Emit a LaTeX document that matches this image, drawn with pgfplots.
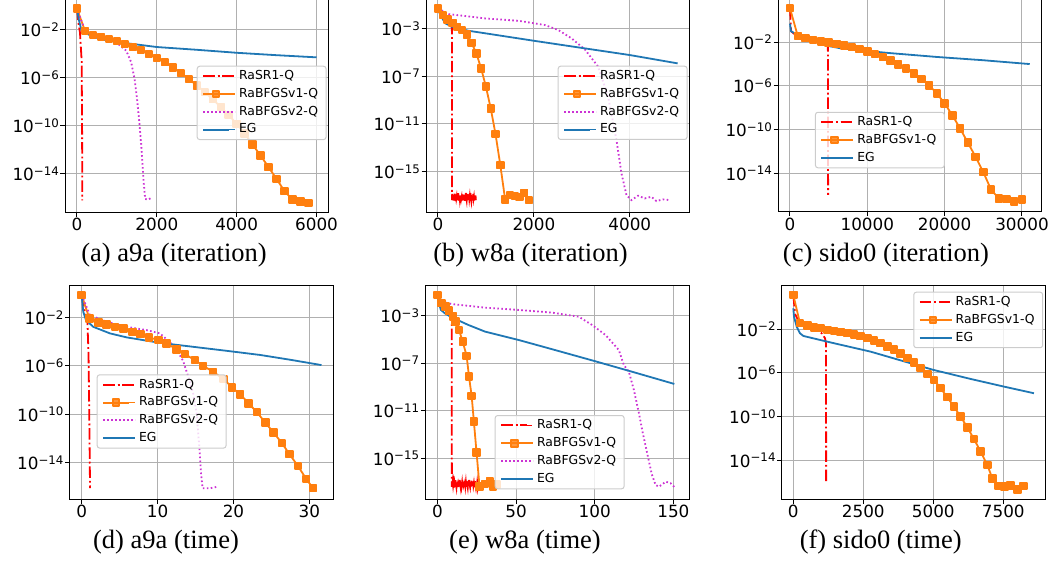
\documentclass[border=0pt]{standalone}
\usepackage{fontspec}
\setmainfont{DejaVu Sans}
\newfontfamily\capfont{Liberation Serif}
\usepackage{pgfplots}
\pgfplotsset{compat=1.18}

\definecolor{tabblue}{HTML}{1F77B4}
\definecolor{taborange}{HTML}{FF7F0E}
\definecolor{mplred}{rgb}{1,0,0}
\definecolor{mplmag}{HTML}{CC33D4}
\definecolor{gridgray}{HTML}{B0B0B0}
\definecolor{leggray}{HTML}{CCCCCC}

% 10^k tick label, set like matplotlib mathtext
\newcommand{\ee}[1]{10\raisebox{5.3pt}{\fontsize{11.8}{12}\selectfont #1}}

\pgfplotsset{
  panel/.style={
    scale only axis,
    axis line style={line width=1pt, black},
    xtick pos=bottom, ytick pos=left,
    tick align=outside, major tick length=4.5pt,
    tick style={black, line width=1pt},
    xminorticks=false, yminorticks=false,
    grid=major, major grid style={gridgray, line width=1pt},
    tick label style={font=\fontsize{16.8}{19}\selectfont},
    yticklabel style={inner xsep=1.5pt},
    xticklabel style={inner ysep=1.5pt},
    scaled ticks=false,
    legend cell align=left,
    legend image code/.code={\path (0pt,0pt) -- (32pt,0pt);
      \draw[mark repeat=2,mark phase=2,##1,line width=2pt]
      plot coordinates {(0pt,0pt)(13pt,0pt)(26pt,0pt)};},
    legend style={anchor=north west, font=\fontsize{12.4}{14}\selectfont,
      draw=leggray, line width=1pt, rounded corners=2.5pt,
      fill=white, fill opacity=0.8, text opacity=1, draw opacity=1,
      inner xsep=5pt, inner ysep=2.5pt, row sep=2.9pt,
      nodes={inner xsep=3pt, inner ysep=1.5pt, text height=9.3pt, text depth=2.6pt}},
  },
  ytA/.style={ytick={1e-2,1e-6,1e-10,1e-14},
    yticklabels={\ee{−2},\ee{−6},\ee{−10},\ee{−14}}},
  ytB/.style={ytick={1e-3,1e-7,1e-11,1e-15},
    yticklabels={\ee{−3},\ee{−7},\ee{−11},\ee{−15}}},
  sr1/.style={color=mplred, line width=1.8pt, no markers,
    dash pattern=on 11.5pt off 2.9pt on 1.8pt off 2.9pt},
  bv1/.style={color=taborange, line width=1.8pt, solid, line join=round,
    mark=square*, mark size=3.3pt, mark options={solid}},
  bv2/.style={color=mplmag, line width=1.8pt, no markers,
    dash pattern=on 1.6pt off 2.4pt},
  eg/.style={color=tabblue, line width=1.8pt, solid, no markers, line join=round},
}

\begin{document}
\begin{tikzpicture}[x=1pt,y=1pt]
\path[use as bounding box] (0,0) rectangle (1056,560);

% ---------------- (a) a9a (iteration)
\begin{axis}[ymode=log, panel, ytA, at={(65pt,348pt)}, anchor=south west,
  width=263.5pt, height=213.2pt,
  xmin=-300, xmax=6300, ymin=6.76e-18, ymax=3.98,
  xtick={0,2000,4000,6000}, xticklabels={0,2000,4000,6000},
  legend style={at={(0.4998,0.686)}}]
\addplot[sr1] coordinates {(0,6e-1)(40,3.2e-2)(75,6.3e-3)(117,2.75e-5)(128,1e-10)(133,6.3e-17)};
\addplot[bv1] coordinates {(0,6e-1)(200,8.7e-3)(400,3.8e-3)(600,2.75e-3)(800,1.78e-3)(1000,1.15e-3)
  (1200,6.76e-4)(1400,3.63e-4)(1600,2.14e-4)(1800,1e-4)(2000,4.68e-5)(2200,2.04e-5)(2400,7.76e-6)
  (2600,2.63e-6)(2800,8.32e-7)(3000,2.45e-7)(3200,6.76e-8)(3400,1.70e-8)(3600,3.89e-9)(3800,8.13e-10)
  (4000,1.51e-10)(4200,2.40e-11)(4400,2.75e-12)(4600,3.39e-13)(4800,3.63e-14)(5000,3.80e-15)
  (5200,3.63e-16)(5400,7.24e-17)(5600,4.90e-17)(5800,3.80e-17)};
\addplot[bv2] coordinates {(0,6e-1)(200,9e-3)(500,3.3e-3)(800,1.8e-3)(983,9.3e-4)(1233,1.9e-4)
  (1358,2.04e-5)(1442,8.32e-7)(1500,2.45e-8)(1550,5.25e-10)(1608,3.16e-12)(1667,2.75e-15)
  (1708,8.3e-17)(1775,7.24e-17)(1858,1e-16)};
\addplot[eg] coordinates {(0,6e-1)(50,6.3e-2)(117,8.7e-3)(300,4.0e-3)(575,1.78e-3)(1000,1.0e-3)
  (1408,6.76e-4)(2000,3.8e-4)(3000,2.24e-4)(4000,1.26e-4)(5000,7.94e-5)(6000,5.25e-5)};
\legend{RaSR1-Q,RaBFGSv1-Q,RaBFGSv2-Q,EG}
\end{axis}

% ---------------- (b) w8a (iteration)
\begin{axis}[ymode=log, panel, ytB, at={(426pt,348pt)}, anchor=south west,
  width=263.7pt, height=213.6pt,
  xmin=-250, xmax=5250, ymin=3.98e-19, ymax=0.355,
  xtick={0,2000,4000}, xticklabels={0,2000,4000},
  legend style={at={(0.4994,0.685)}}]
\addplot[sr1] coordinates {(0,5.1e-2)(100,1.41e-2)(200,6e-3)(290,1.26e-3)(293,4.0e-18)
  (300,1.3e-17)(310,5.0e-18)(318,1.1e-17)(326,3.6e-18)(335,9.0e-18)(343,4.5e-18)(350,1.4e-17)
  (358,6.0e-18)(366,3.4e-18)(375,1.2e-17)(383,5.5e-18)(390,8.0e-18)(398,3.8e-18)(406,1.0e-17)
  (414,4.2e-18)(422,1.5e-17)(430,6.5e-18)(438,3.5e-18)(446,1.1e-17)(455,4.8e-18)(463,9.5e-18)
  (470,3.7e-18)(478,1.3e-17)(486,5.2e-18)(494,7.5e-18)(502,3.6e-18)(510,1.2e-17)(518,4.4e-18)
  (526,1.0e-17)(534,3.9e-18)(542,1.4e-17)(550,6.2e-18)(558,3.5e-18)(566,1.1e-17)(574,4.6e-18)
  (582,1.6e-17)(590,5.8e-18)(598,3.7e-18)(606,9.8e-18)(614,4.1e-18)(622,1.3e-17)(630,5.4e-18)
  (638,3.6e-18)(646,1.2e-17)(654,4.9e-18)(662,8.5e-18)(670,3.8e-18)(678,1.5e-17)(686,5.6e-18)
  (694,3.5e-18)(702,1.1e-17)(710,4.3e-18)(718,9.2e-18)(726,3.7e-18)(734,1.3e-17)(742,5.1e-18)
  (750,7.8e-18)(758,3.6e-18)(766,1.2e-17)(774,4.7e-18)(782,1.0e-17)(790,4.0e-18)};
\addplot[bv1] coordinates {(0,5.1e-2)(100,1.41e-2)(200,6.0e-3)(300,3.16e-3)(400,1.48e-3)(500,7.76e-4)
  (600,3.31e-4)(700,6.6e-5)(800,8.5e-6)(900,4.68e-7)(1000,1.35e-8)(1100,2.04e-10)(1200,1.41e-12)
  (1300,3.47e-15)(1400,4.57e-18)(1500,1.05e-17)(1600,8.7e-18)(1700,7.6e-18)(1800,1.66e-17)(1900,3.98e-18)};
\addplot[bv2] coordinates {(0,5.1e-2)(222,1.70e-2)(984,7.4e-3)(1678,4.68e-3)(2232,2.04e-3)(2510,7.76e-4)
  (2787,1.55e-4)(3064,1.82e-5)(3341,6.46e-7)(3549,1.95e-9)(3723,4.37e-13)(3827,6.9e-16)(3931,1.05e-17)
  (4035,3.98e-18)(4173,9.3e-18)(4312,5.5e-18)(4451,7.6e-18)(4555,3.3e-18)(4693,4.57e-18)(4832,3.98e-18)};
\addplot[eg] coordinates {(0,5.1e-2)(49,1.41e-2)(153,2.82e-3)(291,1.48e-3)(638,6.76e-4)(998,4.07e-4)
  (1997,9.8e-5)(3064,2.24e-5)(4000,6.17e-6)(4998,1.23e-6)};
\legend{RaSR1-Q,RaBFGSv1-Q,RaBFGSv2-Q,EG}
\end{axis}

% ---------------- (c) sido0 (iteration)
\begin{axis}[ymode=log, panel, ytA, at={(778pt,348.3pt)}, anchor=south west,
  width=263.7pt, height=212.6pt,
  xmin=-1550, xmax=32550, ymin=3.02e-18, ymax=89.1,
  xtick={0,10000,20000,30000}, xticklabels={0,10000,20000,30000},
  legend style={at={(0.140,0.470)}}]
\addplot[sr1] coordinates {(0,12.9)(150,1e-1)(1000,3.16e-2)(2500,1.58e-2)(4000,7.94e-3)(4900,4.47e-3)(4930,1.05e-16)};
\addplot[bv1] coordinates {(0,12.9)(1000,3.8e-2)(2000,2.34e-2)(3000,1.62e-2)(4000,1.15e-2)(5000,9.3e-3)
  (6000,7.08e-3)(7000,4.9e-3)(8000,3.47e-3)(9000,2.29e-3)(10000,1.41e-3)(11000,7.94e-4)(12000,4.27e-4)
  (13000,2.09e-4)(14000,8.9e-5)(15000,3.8e-5)(16000,1.41e-5)(17000,4.37e-6)(18000,1.12e-6)(19000,2.0e-7)
  (20000,2.51e-8)(21000,2.0e-9)(22000,1.26e-10)(23000,6.3e-12)(24000,3.16e-13)(25000,1.26e-14)
  (26000,3.16e-16)(27000,5.0e-17)(28000,4.47e-17)(29000,2.51e-17)(30000,3.98e-17)};
\addplot[eg] coordinates {(0,5.0e-1)(130,1e-1)(1000,5.0e-2)(2200,2.51e-2)(3500,1.12e-2)(5000,4.47e-3)
  (6500,2.82e-3)(8700,1.91e-3)(13000,1e-3)(19000,4.47e-4)(25000,2.24e-4)(31000,1e-4)};
\legend{RaSR1-Q,RaBFGSv1-Q,EG}
\end{axis}

% ---------------- (d) a9a (time)
\begin{axis}[ymode=log, panel, ytA, at={(69.7pt,60.7pt)}, anchor=south west,
  width=263.6pt, height=214.2pt,
  xmin=-1.58, xmax=33.16, ymin=9.33e-18, ymax=4.68,
  xtick={0,10,20,30}, xticklabels={0,10,20,30},
  legend style={at={(0.1024,0.5836)}}]
\addplot[sr1] coordinates {(0,6.9e-1)(0.4,3.16e-2)(0.75,5.0e-3)(0.9,1e-5)(1.0,1e-10)(1.1,7.94e-17)};
\addplot[bv1] coordinates {(0,6.9e-1)(1.01,8.3e-3)(2.2,3.89e-3)(3.29,2.63e-3)(4.39,1.70e-3)(5.49,1.23e-3)
  (6.68,6.6e-4)(7.77,4.17e-4)(8.87,2.24e-4)(10.1,1.35e-4)(11.2,7.08e-5)(12.5,2.29e-5)(13.6,9.3e-6)
  (14.9,3.02e-6)(16.0,1.02e-6)(17.3,3.24e-7)(18.7,8.1e-8)(19.8,1.66e-8)(20.9,4.37e-9)(22.0,7.94e-10)
  (23.1,1.45e-10)(24.2,2.0e-11)(25.3,3.02e-12)(26.4,3.98e-13)(27.4,4.9e-14)(28.5,5.25e-15)
  (29.6,4.47e-16)(30.5,7.6e-17)};
\addplot[bv2] coordinates {(0,6.9e-1)(1.09,1.55e-2)(3.29,4.37e-3)(5.93,1.66e-3)(8.56,8.9e-4)(10.3,4.79e-4)
  (11.6,9.5e-5)(12.5,2.0e-5)(13.2,4.07e-6)(13.4,2.19e-6)(14.05,1.26e-7)(14.7,5.25e-9)(15.15,1.17e-10)
  (15.5,2.09e-13)(15.72,1.32e-15)(15.94,7.6e-17)(16.9,7.6e-17)(18.0,1.05e-16)};
\addplot[eg] coordinates {(0,6.9e-1)(0.21,2.88e-2)(0.57,6.0e-3)(1.53,1.66e-3)(3.73,4.79e-4)(5.93,2.24e-4)
  (10.3,7.94e-5)(14.7,3.72e-5)(19.1,1.74e-5)(23.5,7.94e-6)(27.5,3.16e-6)(31.6,1.15e-6)};
\legend{RaSR1-Q,RaBFGSv1-Q,RaBFGSv2-Q,EG}
\end{axis}

% ---------------- (e) w8a (time)
\begin{axis}[ymode=log, panel, ytB, at={(425.3pt,61pt)}, anchor=south west,
  width=264.4pt, height=214.0pt,
  xmin=-7.8, xmax=160.4, ymin=3.72e-19, ymax=0.407,
  xtick={0,50,100,150}, xticklabels={0,50,100,150},
  legend style={at={(0.2625,0.3925)}}]
\addplot[sr1] coordinates {(0,5.9e-2)(2.5,1.2e-2)(5,6.3e-3)(9.0,8.7e-4)(9.1,4.0e-18)
  (9.6,1.2e-17)(9.9,5.0e-18)(10.2,1.0e-17)(10.5,3.5e-18)(10.8,8.5e-18)(11.1,4.5e-18)(11.4,1.4e-17)
  (11.7,6.0e-18)(12.0,3.4e-18)(12.3,1.1e-17)(12.6,5.5e-18)(12.9,8.0e-18)(13.2,3.8e-18)(13.5,1.3e-17)
  (13.8,4.2e-18)(14.1,1.5e-17)(14.4,6.5e-18)(14.7,3.5e-18)(15.0,1.1e-17)(15.3,4.8e-18)(15.6,9.5e-18)
  (15.9,3.7e-18)(16.2,1.3e-17)(16.5,5.2e-18)(16.8,7.5e-18)(17.1,3.6e-18)(17.4,1.2e-17)(17.7,4.4e-18)
  (18.0,1.0e-17)(18.3,3.9e-18)(18.6,1.4e-17)(18.9,6.2e-18)(19.2,3.5e-18)(19.5,1.1e-17)(19.8,4.6e-18)
  (20.1,1.5e-17)(20.4,5.8e-18)(20.7,3.7e-18)(21.0,9.8e-18)(21.3,4.1e-18)(21.6,1.3e-17)(21.9,5.4e-18)
  (22.2,3.6e-18)(22.5,1.2e-17)(22.8,4.9e-18)(23.1,8.5e-18)(23.4,3.8e-18)(23.7,1.4e-17)(24.0,5.6e-18)
  (24.3,3.5e-18)(24.6,1.1e-17)(24.9,4.3e-18)(25.2,9.2e-18)(25.5,3.7e-18)(25.7,6.0e-18)};
\addplot[bv1] coordinates {(0,5.9e-2)(2.55,1.17e-2)(5.1,6.17e-3)(7.2,2.82e-3)(10.0,8.7e-4)(11.5,3.31e-4)
  (13.6,6.6e-5)(16.0,6.9e-6)(18.5,4.27e-7)(20.0,7.6e-9)(21.7,1.78e-10)(23.1,1.26e-12)(24.8,3.16e-15)
  (26.7,4.07e-18)(30.0,6.76e-18)(33.2,1.07e-17)(35.3,4.07e-18)(37.6,6.3e-18)};
\addplot[bv2] coordinates {(0,5.9e-2)(2.55,1.62e-2)(8.9,1.02e-2)(30.2,5.0e-3)(51.5,3.24e-3)(72.8,1.91e-3)
  (89.8,8.7e-4)(98.3,1.74e-4)(106.8,2.51e-5)(115.3,1.35e-6)(118.5,7.4e-8)(121.7,2.0e-8)(124.9,5.75e-10)
  (128.1,6.3e-12)(130.6,1.26e-13)(133.4,2.51e-15)(136.2,5.0e-17)(138.7,5.6e-18)(140.9,4.07e-18)
  (145.1,1.07e-17)(148.3,7.94e-18)(151.5,2.95e-18)};
\addplot[eg] coordinates {(0,5.9e-2)(0.85,1.17e-2)(2.1,3.24e-3)(4.7,1.66e-3)(8.9,7.76e-4)(19.6,1.74e-4)
  (30.2,4.79e-5)(51.5,9.5e-6)(72.8,1.58e-6)(100.4,1.51e-7)(125,1.78e-8)(150.6,1.86e-9)};
\legend{RaSR1-Q,RaBFGSv1-Q,RaBFGSv2-Q,EG}
\end{axis}

% ---------------- (f) sido0 (time)
\begin{axis}[ymode=log, panel, ytA, at={(781.7pt,60.7pt)}, anchor=south west,
  width=263.3pt, height=213.4pt,
  xmin=-414, xmax=8989, ymin=2.69e-18, ymax=93.3,
  xtick={0,2500,5000,7500}, xticklabels={0,2500,5000,7500},
  legend style={at={(0.4998,0.9728)}}]
\addplot[sr1] coordinates {(0,14.1)(25,3.16)(60,2.51e-1)(200,5.0e-2)(360,2.51e-2)(589,1.74e-2)(836,8.7e-3)
  (1014,4.27e-3)(1132,1.51e-3)(1168,5.25e-4)(1170,1e-5)(1172,1e-16)};
\addplot[bv1] coordinates {(0,14.1)(238,3.55e-2)(500,2.19e-2)(738,1.51e-2)(976,1.23e-2)(1214,8.7e-3)
  (1452,7.08e-3)(1690,5.75e-3)(1929,4.27e-3)(2167,3.24e-3)(2405,2.29e-3)(2643,1.51e-3)(2881,9.1e-4)
  (3119,5.25e-4)(3357,2.75e-4)(3595,1.38e-4)(3833,5.9e-5)(4071,2.34e-5)(4310,8.9e-6)(4548,2.88e-6)
  (4786,8.1e-7)(5024,2.29e-7)(5262,3.98e-8)(5500,5.9e-9)(5738,8.3e-10)(5976,1e-10)(6214,1.05e-11)
  (6452,8.9e-13)(6690,6.3e-14)(6929,3.72e-15)(7107,2.24e-16)(7310,4.47e-17)(7548,3.89e-17)
  (7762,5.1e-17)(8000,2.19e-17)(8214,4.47e-17)};
\addplot[eg] coordinates {(0,8.3e-1)(25,1.41e-1)(121,1.74e-2)(239,4.27e-3)(357,2.45e-3)(954,1.05e-3)
  (1571,4.47e-4)(2762,8.9e-5)(3900,1.26e-5)(5000,1.91e-6)(6333,2.82e-7)(7524,5.6e-8)(8595,1.38e-8)};
\legend{RaSR1-Q,RaBFGSv1-Q,EG}
\end{axis}

% ---------------- sub-captions
\begin{scope}[every node/.style={anchor=base, font=\capfont\fontsize{26.5}{30}\selectfont, inner sep=0pt}]
\node at (174,298.4) {(a) a9a (iteration)};
\node at (530.5,298.4) {(b) w8a (iteration)};
\node at (886,298.4) {(c) sido0 (iteration)};
\node at (166,11.7) {(d) a9a (time)};
\node at (525,11.7) {(e) w8a (time)};
\node at (880.7,11.7) {(f) sido0 (time)};
\end{scope}
\end{tikzpicture}
\end{document}
